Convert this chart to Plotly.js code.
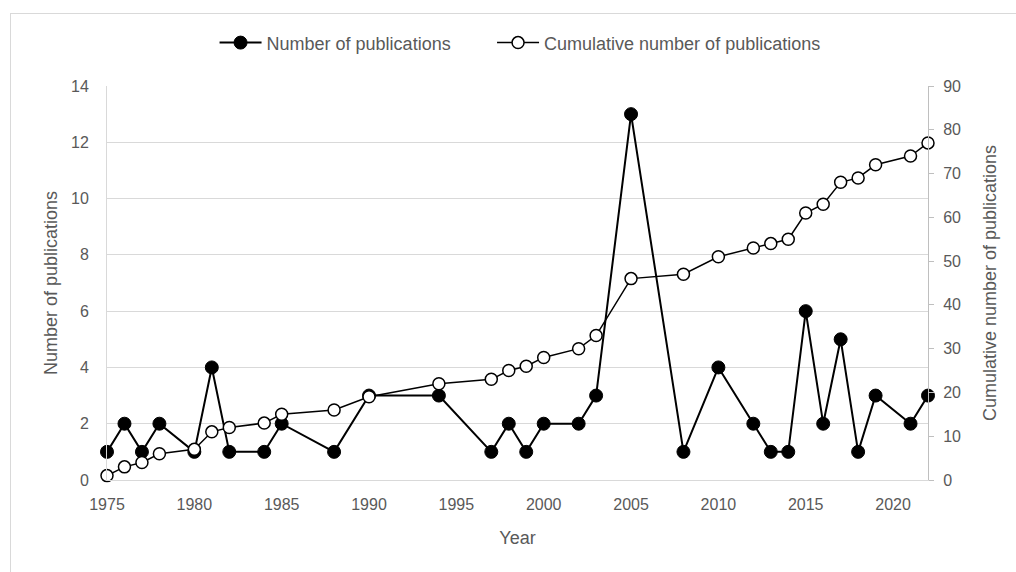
<!DOCTYPE html>
<html>
<head>
<meta charset="utf-8">
<script src="https://cdn.plot.ly/plotly-3.0.1.min.js"></script>
<style>
  html, body { margin: 0; padding: 0; background: #fff; overflow: hidden; }
  #wrap { position: relative; width: 1016px; height: 572px; }
  #chart { width: 1016px; height: 572px; }
  #frame { position: absolute; left: 10px; top: 13px; width: 1020px; height: 580px;
           border: 1px solid #d9d9d9; pointer-events: none; box-sizing: border-box; }
</style>
</head>
<body>
<div id="wrap">
  <div id="chart"></div>
  <div id="frame"></div>
</div>
<script>
const years = [1975, 1976, 1977, 1978, 1980, 1981, 1982, 1984, 1985, 1988, 1990, 1994, 1997, 1998, 1999, 2000, 2002, 2003, 2005, 2008, 2010, 2012, 2013, 2014, 2015, 2016, 2017, 2018, 2019, 2021, 2022];
const publications = [1, 2, 1, 2, 1, 4, 1, 1, 2, 1, 3, 3, 1, 2, 1, 2, 2, 3, 13, 1, 4, 2, 1, 1, 6, 2, 5, 1, 3, 2, 3];
const cumulative = [1, 3, 4, 6, 7, 11, 12, 13, 15, 16, 19, 22, 23, 25, 26, 28, 30, 33, 46, 47, 51, 53, 54, 55, 61, 63, 68, 69, 72, 74, 77];
const seriesNames = ["Number of publications", "Cumulative number of publications"];
const xTitle = "Year";
const yTitle = "Number of publications";
const y2Title = "Cumulative number of publications";

const FONT = "Liberation Sans, Arial, sans-serif";
const GRAY = "#595959";

const traces = [
  {
    x: years, y: publications, name: seriesNames[0], type: "scatter", mode: "lines+markers",
    legend: "legend",
    line: { color: "#000", width: 2 },
    marker: { symbol: "circle", size: 13, color: "#000", line: { color: "#000", width: 1 } },
    cliponaxis: false
  },
  {
    x: years, y: cumulative, name: seriesNames[1], type: "scatter", mode: "lines+markers",
    yaxis: "y2", legend: "legend2",
    line: { color: "#000", width: 1.5 },
    marker: { symbol: "circle", size: 12, color: "#fff", line: { color: "#000", width: 1.5 } },
    cliponaxis: false
  }
];

const legendCommon = {
  orientation: "h", yref: "container", y: 0.925, yanchor: "middle", xanchor: "left",
  font: { family: FONT, size: 18, color: GRAY }, itemwidth: 42,
  bgcolor: "rgba(0,0,0,0)"
};

const layout = {
  width: 1016, height: 572,
  margin: { l: 107, r: 88, t: 86, b: 92 },
  paper_bgcolor: "#fff", plot_bgcolor: "#fff",
  font: { family: FONT, color: GRAY, size: 16 },
  showlegend: true,
  legend: Object.assign({}, legendCommon, { x: 0.131 }),
  legend2: Object.assign({}, legendCommon, { x: 0.469 }),
  xaxis: {
    range: [1975, 2022], tick0: 1975, dtick: 5, tickmode: "linear",
    showgrid: false, zeroline: false, showline: true, linecolor: "#d9d9d9", linewidth: 1,
    ticks: "", tickfont: { size: 16, color: GRAY }, ticklabelstandoff: 10,
    title: { text: xTitle, font: { size: 18, color: GRAY }, standoff: 19 }
  },
  yaxis: {
    range: [0, 14], dtick: 2, tickmode: "linear",
    showgrid: true, gridcolor: "#d9d9d9", gridwidth: 1, zeroline: false,
    showline: true, linecolor: "#d9d9d9", linewidth: 1, ticks: "",
    tickfont: { size: 16, color: GRAY }, ticklabelstandoff: 14,
    title: { text: yTitle, font: { size: 18, color: GRAY }, standoff: 8 }
  },
  yaxis2: {
    overlaying: "y", side: "right", range: [0, 90], dtick: 10, tickmode: "linear",
    showgrid: false, zeroline: false, showline: true, linecolor: "#bfbfbf", linewidth: 1,
    ticks: "outside", ticklen: 5, tickcolor: "#bfbfbf",
    tickfont: { size: 16, color: GRAY }, ticklabelstandoff: 6,
    title: { text: y2Title, font: { size: 18, color: GRAY }, standoff: 23 }
  }
};

Plotly.newPlot("chart", traces, layout, { displayModeBar: false, staticPlot: true });
</script>
</body>
</html>
